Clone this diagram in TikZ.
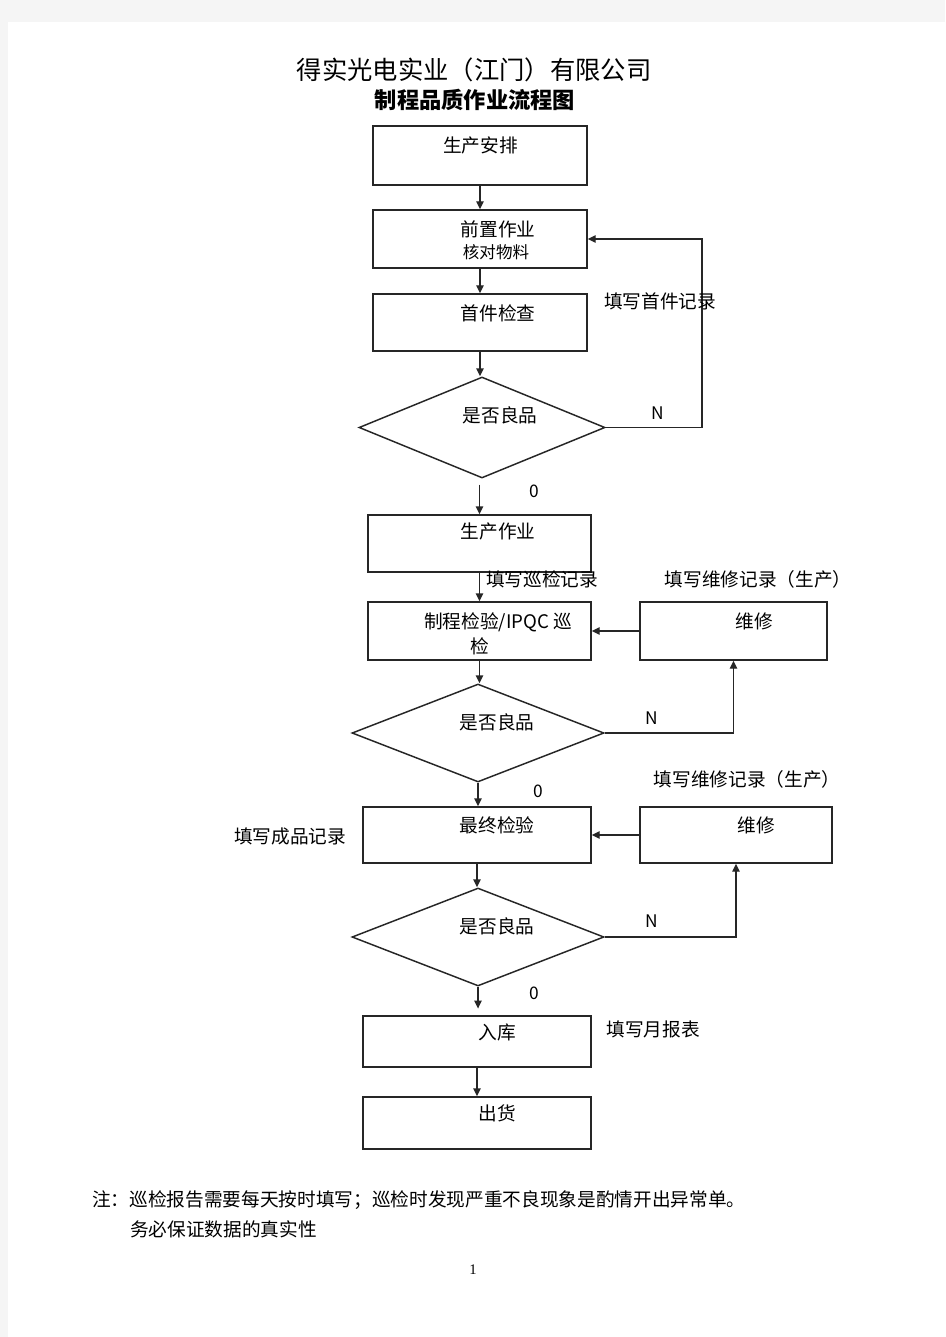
\documentclass[tikz,border=0pt]{standalone}
\usepackage{fontspec}
\setmainfont{Noto Sans CJK SC}
\newfontfamily\pgnum{Liberation Serif}
\usetikzlibrary{shapes.geometric,arrows.meta}
\begin{document}
\begin{tikzpicture}[x=0.75pt,y=-0.75pt,
  box/.style 2 args={draw=black!85,line width=1.1pt,rectangle,inner sep=0pt,minimum width=#1*0.75pt,minimum height=#2*0.75pt},
  dia/.style 2 args={draw=black!85,line width=1.1pt,diamond,inner sep=0pt,minimum width=#1*0.75pt,minimum height=#2*0.75pt},
  arr/.style={draw=black!85,line width=1.1pt,-{Triangle[length=6pt,width=5.5pt]}},
  ln/.style={draw=black!85,line width=1.1pt},
  txt/.style={inner sep=0pt,font=\fontsize{14pt}{16pt}\selectfont},
  sml/.style={inner sep=0pt,font=\fontsize{12.4pt}{14pt}\selectfont},
  lat/.style={inner sep=0pt,font=\fontsize{13pt}{15pt}\selectfont},
]
\fill[gray!8] (0,0) rectangle (945,1337);
\fill[white] (8,22) rectangle (945,1337);
\useasboundingbox (0,0) rectangle (945,1337);

% titles
\node[inner sep=0pt,font=\fontsize{19pt}{22pt}\selectfont] (title) at (474,70) {得实光电实业（江门）有限公司};
\node[inner sep=0pt,font=\fontsize{16.7pt}{19pt}\selectfont\bfseries] (subtitle) at (475,100) {制程品质作业流程图};

% boxes and diamonds
\node[box={214}{59}] (b1) at (480,155.5) {};
\node[box={214}{58}] (b2) at (480,239) {};
\node[box={214}{57}] (b3) at (480,322.5) {};
\node[dia={246}{101}] (d1) at (482,427.5) {};
\node[box={223}{57}] (b4) at (479.5,543.5) {};
\node[box={223}{58}] (b5) at (479.5,631) {};
\node[box={187}{58}] (r1) at (733.5,631) {};
\node[dia={252}{98}] (d2) at (478,733) {};
\node[box={228}{56}] (b6) at (477,835) {};
\node[box={192}{56}] (r2) at (736,835) {};
\node[dia={252}{98}] (d3) at (478,937) {};
\node[box={228}{51}] (b7) at (477,1041.5) {};
\node[box={228}{52}] (b8) at (477,1123) {};

% texts inside
\node[txt] (t1) at (480.5,145) {生产安排};
\node[txt] (t2) at (498,229) {前置作业};
\node[sml] (t2b) at (496,252) {核对物料};
\node[txt] (t3) at (498,313) {首件检查};
\node[txt] (t4) at (500,415) {是否良品};
\node[txt] (t5) at (498,531) {生产作业};
\node[txt] (t6) at (498,622) {制程检验/IPQC 巡};
\node[txt] (t6b) at (480,646) {检};
\node[txt] (t7) at (754,621) {维修};
\node[txt] (t8) at (497,722) {是否良品};
\node[txt] (t9) at (497,825) {最终检验};
\node[txt] (t10) at (756,825) {维修};
\node[txt] (t11) at (497,926) {是否良品};
\node[txt] (t12) at (497,1032) {入库};
\node[txt] (t13) at (497,1113) {出货};

% connectors
\draw[arr] (b1.south) -- (b2.north);
\draw[arr] (b2.south) -- (b3.north);
\draw[arr] (b3.south) -- (b3.south |- d1.north);
\coordinate (c1) at (702,427.5);
\draw[arr] (d1.east) -- (c1) |- (b2.east);
\draw[arr] ([yshift=-4.5pt]d1.south -| b4.north) -- (b4.north);
\draw[arr] (b4.south) -- (b5.north);
\draw[arr] (r1.west) -- (b5.east);
\draw[arr] (b5.south) -- (b5.south |- d2.north);
\draw[arr] (d2.east) -| (r1.south);
\draw[arr] (d2.south) -- (d2.south |- b6.north);
\draw[arr] (r2.west) -- (b6.east);
\draw[arr] (b6.south) -- (b6.south |- d3.north);
\draw[arr] (d3.east) -| (r2.south);
\draw[arr] (d3.south) -- ([yshift=5pt]d3.south |- b7.north);
\draw[arr] (b7.south) -- (b8.north);

% labels
\node[lat] (n1) at (658,413) {N};
\node[txt] (l1) at (660,301) {填写首件记录};
\node[lat] (z1) at (534,491) {0};
\node[txt] (l2) at (542,579) {填写巡检记录};
\node[txt] (l3) at (758,579) {填写维修记录（生产）};
\node[lat] (n2) at (652,718) {N};
\node[lat] (z2) at (538,791) {0};
\node[txt] (l4) at (747,779) {填写维修记录（生产）};
\node[txt] (l5) at (290,836) {填写成品记录};
\node[lat] (n3) at (652,921) {N};
\node[lat] (z3) at (534,993) {0};
\node[txt] (l6) at (653,1029) {填写月报表};

% notes
\node[txt,anchor=west] (note1) at (92,1200) {注：巡检报告需要每天按时填写；巡检时发现严重不良现象是酌情开出异常单。};
\node[txt,anchor=west] (note2) at (130,1229) {务必保证数据的真实性};
\node[inner sep=0pt,font=\pgnum\fontsize{11pt}{13pt}\selectfont] (pg) at (473,1270) {1};
\end{tikzpicture}
\end{document}
